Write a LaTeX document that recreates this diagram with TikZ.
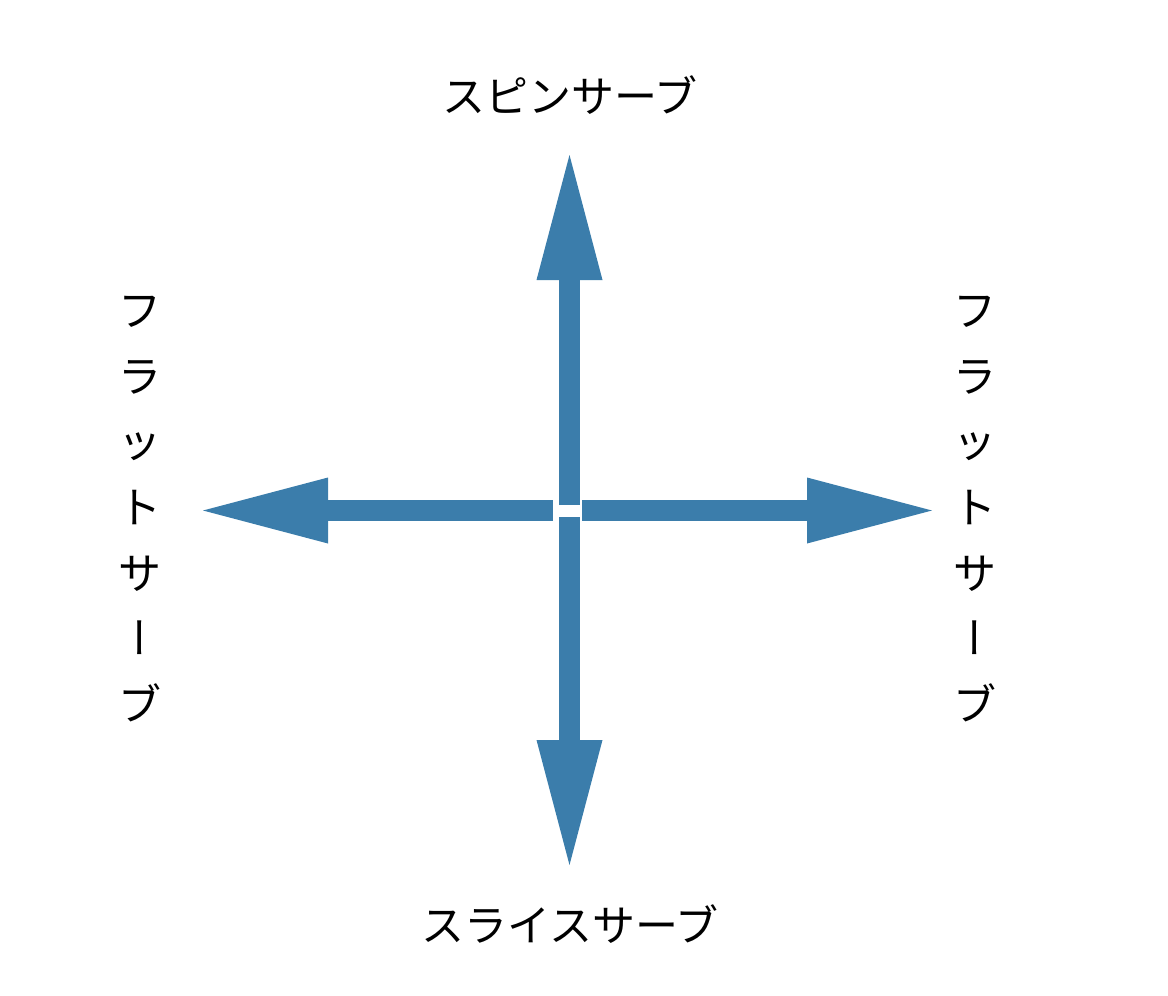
\documentclass[tikz,border=0pt]{standalone}
\usepackage{fontspec}
\newfontfamily\cjk{Noto Sans CJK JP}
\newfontfamily\cjkvert[RawFeature=+vert]{Noto Sans CJK JP}
\definecolor{serveblue}{HTML}{3B7DAB}
\usetikzlibrary{arrows.meta,positioning}
\tikzset{
  lbl/.style={font=\cjk\fontsize{21.5}{26}\selectfont,inner sep=0pt},
  vlbl/.style={font=\cjk\fontsize{21.5}{32.85}\selectfont,align=center,inner sep=0pt},
  arr/.style={-{Triangle[length=62.5pt,width=33pt,line width=0pt]},line width=10.5pt,serveblue}
}

\begin{document}
\begin{tikzpicture}[x=0.5pt,y=-0.5pt]
    \useasboundingbox (0,0) rectangle (1168,996);
    % shaft ends near the middle
    \coordinate (upS) at (569.5,505);
    \coordinate (dnS) at (569.5,517);
    \coordinate (ltS) at (553,510.5);
    \coordinate (rtS) at (582,510.5);
    % arrow tips
    \coordinate (upT) at (569.5,155);
    \coordinate (dnT) at (569.5,865);
    \coordinate (ltT) at (203,510.5);
    \coordinate (rtT) at (932,510.5);
    \foreach \a/\b in {upS/upT,dnS/dnT,ltS/ltT,rtS/rtT} \draw[arr] (\a) -- (\b);
    \node[lbl] (spin) at (570,95) {スピンサーブ};
    \node[lbl] (slice) at (570,924) {スライスサーブ};
    \node[vlbl] (flatL) at (140,509) {フ\\ラ\\ッ\\ト\\サ\\{\cjkvert ー}\\ブ};
    \node[vlbl] (flatR) at (975,509) {フ\\ラ\\ッ\\ト\\サ\\{\cjkvert ー}\\ブ};
\end{tikzpicture}
\end{document}
